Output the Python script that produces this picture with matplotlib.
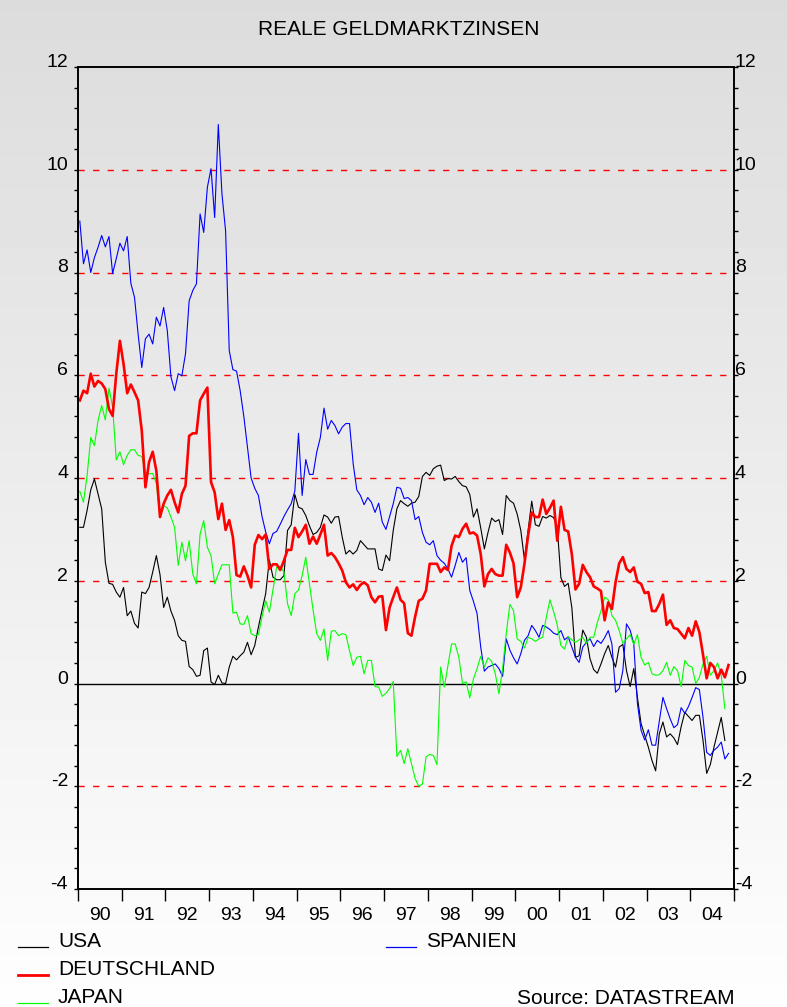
import matplotlib
matplotlib.use('Agg')
import matplotlib.pyplot as plt
from matplotlib.lines import Line2D
from matplotlib.ticker import MultipleLocator
import numpy as np

plt.rcParams['font.family'] = ['Liberation Sans', 'DejaVu Sans']
plt.rcParams['axes.unicode_minus'] = False

# monatliche Werte ab Januar 1990
usa = [3.04, 3.04, 3.37, 3.77, 3.98, 3.69, 3.4, 2.36, 1.95, 1.93,
       1.78, 1.68, 1.87, 1.32, 1.41, 1.17, 1.08, 1.78, 1.75, 1.87,
       2.17, 2.49, 2.12, 1.48, 1.68, 1.41, 1.23, 0.93, 0.84, 0.82,
       0.33, 0.27, 0.14, 0.16, 0.64, 0.69, 0.03, -0.02, 0.16, 0.01,
       0.0, 0.32, 0.53, 0.46, 0.54, 0.61, 0.8, 0.56, 0.74, 1.1,
       1.43, 1.75, 2.41, 2.07, 2.02, 2.02, 2.1, 2.98, 3.09, 3.68,
       3.43, 3.4, 3.27, 3.07, 2.9, 2.94, 3.04, 3.28, 3.24, 3.12,
       3.24, 3.25, 2.85, 2.52, 2.59, 2.52, 2.59, 2.78, 2.7, 2.62,
       2.62, 2.62, 2.23, 2.2, 2.5, 2.39, 2.98, 3.4, 3.56, 3.5,
       3.45, 3.51, 3.53, 3.64, 4.03, 4.11, 4.05, 4.18, 4.23, 4.25,
       3.95, 3.99, 3.98, 4.03, 3.93, 3.85, 3.83, 3.68, 3.24, 3.4,
       3.03, 2.62, 2.94, 3.22, 3.15, 3.19, 2.9, 3.66, 3.56, 3.51,
       3.3, 2.98, 2.41, 2.98, 3.55, 3.09, 3.06, 3.25, 3.22, 3.27,
       3.23, 3.05, 2.06, 1.89, 1.95, 1.48, 0.51, 0.54, 1.04, 0.9,
       0.48, 0.27, 0.2, 0.38, 0.58, 0.74, 0.51, 0.32, 0.71, 0.76,
       0.25, -0.06, 0.29, -0.27, -0.78, -1.01, -1.24, -1.5, -1.7, -0.98,
       -0.75, -1.04, -0.98, -1.06, -1.19, -0.84, -0.56, -0.64, -0.72, -0.62,
       -0.62, -1.11, -1.75, -1.58, -1.24, -0.95, -0.66, -1.11]

deutschland = [5.51, 5.7, 5.65, 6.03, 5.78, 5.89, 5.84, 5.73, 5.34, 5.21,
               6.03, 6.67, 6.22, 5.65, 5.82, 5.67, 5.51, 4.92, 3.82, 4.31,
               4.51, 4.14, 3.24, 3.5, 3.66, 3.77, 3.53, 3.33, 3.69, 3.85,
               4.82, 4.87, 4.87, 5.51, 5.64, 5.76, 3.92, 3.72, 3.2, 3.5,
               2.99, 3.18, 2.85, 2.11, 2.08, 2.28, 2.1, 1.87, 2.7, 2.89,
               2.81, 2.9, 2.23, 2.32, 2.32, 2.21, 2.39, 2.6, 2.6, 3.03,
               2.85, 2.96, 3.09, 2.72, 2.86, 2.72, 2.9, 3.09, 2.49, 2.54,
               2.46, 2.34, 2.2, 1.97, 1.87, 1.93, 1.82, 1.92, 1.97, 1.91,
               1.68, 1.58, 1.69, 1.7, 1.04, 1.48, 1.68, 1.87, 1.63, 1.56,
               0.98, 0.93, 1.3, 1.61, 1.65, 1.81, 2.33, 2.33, 2.33, 2.17,
               2.26, 2.21, 2.68, 2.88, 2.85, 3.01, 3.11, 2.92, 2.94, 2.88,
               2.52, 1.89, 2.13, 2.23, 2.13, 2.1, 2.1, 2.7, 2.55, 2.34,
               1.68, 1.87, 2.33, 2.88, 3.33, 3.24, 3.24, 3.58, 3.3, 3.42,
               3.56, 2.78, 3.44, 2.99, 2.96, 2.52, 1.83, 1.94, 2.31, 2.17,
               2.07, 1.89, 1.85, 1.8, 1.23, 1.58, 1.45, 1.97, 2.34, 2.46,
               2.23, 2.17, 2.26, 1.98, 1.94, 1.76, 1.78, 1.41, 1.41, 1.55,
               1.73, 1.14, 1.23, 1.08, 1.06, 0.97, 0.88, 1.08, 0.93, 1.21,
               1.0, 0.56, 0.1, 0.4, 0.32, 0.1, 0.27, 0.12, 0.36]

japan = [3.74, 3.53, 4.05, 4.79, 4.63, 5.12, 5.41, 5.13, 5.75, 5.38,
         4.35, 4.51, 4.26, 4.44, 4.55, 4.55, 4.44, 4.42, 4.11, 4.08,
         4.09, 3.89, 3.24, 3.46, 3.42, 3.24, 3.04, 2.3, 2.75, 2.39,
         2.78, 2.13, 1.94, 2.91, 3.17, 2.65, 2.49, 1.94, 2.13, 2.31,
         2.31, 2.31, 1.37, 1.39, 1.16, 1.15, 1.32, 0.97, 0.93, 0.95,
         1.3, 1.61, 1.39, 1.82, 2.26, 2.28, 2.17, 1.55, 1.32, 1.75,
         1.82, 2.1, 2.46, 1.94, 1.43, 0.97, 0.84, 1.06, 0.45, 1.02,
         1.03, 0.93, 0.97, 0.95, 0.64, 0.35, 0.51, 0.53, 0.19, 0.45,
         0.45, -0.06, -0.07, -0.25, -0.19, -0.1, 0.04, -1.42, -1.3, -1.56,
         -1.27, -1.56, -1.85, -2.0, -1.96, -1.43, -1.38, -1.4, -1.58, 0.32,
         -0.07, 0.35, 0.77, 0.77, 0.51, 0.0, 0.03, -0.28, 0.09, 0.29,
         0.53, 0.32, 0.5, 0.43, 0.19, -0.2, 0.29, 0.97, 1.54, 1.42,
         0.87, 0.82, 0.69, 0.9, 0.87, 0.82, 0.87, 0.9, 1.29, 1.63,
         1.4, 1.14, 0.74, 0.67, 0.91, 0.85, 0.8, 0.85, 0.9, 0.78,
         0.9, 0.9, 1.19, 1.41, 1.68, 1.63, 1.32, 1.23, 1.03, 0.78,
         0.87, 0.95, 0.76, 0.95, 0.51, 0.36, 0.41, 0.19, 0.16, 0.17,
         0.25, 0.41, 0.16, 0.33, 0.25, -0.06, 0.45, 0.35, 0.32, 0.0,
         0.12, 0.38, 0.53, 0.16, 0.25, 0.4, 0.16, -0.49]

spanien = [9.0, 8.17, 8.44, 8.0, 8.29, 8.49, 8.72, 8.5, 8.7, 7.98,
           8.27, 8.57, 8.42, 8.7, 7.79, 7.52, 6.8, 6.15, 6.71, 6.8,
           6.61, 7.13, 6.96, 7.32, 6.87, 5.97, 5.7, 6.03, 5.99, 6.42,
           7.45, 7.65, 7.78, 9.14, 8.78, 9.66, 10.02, 9.07, 10.88, 9.53,
           8.81, 6.48, 6.11, 6.08, 5.7, 5.2, 4.6, 4.0, 3.8, 3.66,
           3.25, 2.95, 2.72, 2.92, 2.96, 3.1, 3.25, 3.38, 3.5, 3.75,
           4.87, 3.66, 4.36, 4.07, 4.07, 4.5, 4.79, 5.36, 4.95, 5.12,
           5.02, 4.86, 4.99, 5.06, 5.06, 4.28, 3.77, 3.66, 3.48, 3.62,
           3.53, 3.33, 3.51, 3.14, 3.0, 3.25, 3.5, 3.82, 3.8, 3.6,
           3.62, 3.56, 3.19, 3.25, 2.94, 2.75, 2.7, 2.78, 2.49, 2.4,
           2.34, 2.23, 2.07, 2.3, 2.55, 2.36, 2.45, 1.81, 1.6, 1.36,
           0.71, 0.24, 0.32, 0.35, 0.38, 0.29, 0.14, 0.87, 0.65, 0.5,
           0.38, 0.58, 0.84, 0.93, 1.13, 1.03, 0.9, 1.13, 1.1, 1.05,
           0.98, 0.95, 1.03, 0.85, 0.91, 0.71, 0.51, 0.41, 0.71, 0.8,
           0.87, 0.72, 0.84, 0.78, 0.89, 1.03, 0.77, -0.17, -0.1, 0.25,
           1.16, 1.04, 0.77, -0.39, -0.91, -1.1, -0.9, -1.2, -1.2, -0.73,
           -0.27, -0.49, -0.69, -0.86, -0.8, -0.47, -0.58, -0.45, -0.27, -0.08,
           -0.12, -0.66, -1.34, -1.4, -1.3, -1.24, -1.14, -1.47, -1.36]

jahre = ['90', '91', '92', '93', '94', '95', '96', '97', '98', '99',
         '00', '01', '02', '03', '04']
gitter = [10, 8, 6, 4, 2, -2]

W, H = 787, 1007
GRUEN = '#00ff00'


def fx(px):
    return px / W


def fy(py):
    return 1 - py / H


def monate(werte):
    return 1990 + (np.arange(len(werte)) + 0.5) / 12


fig = plt.figure(figsize=(W / 100, H / 100), dpi=100)

# grauer Verlauf im Hintergrund
bg = fig.add_axes([0, 0, 1, 1], zorder=-1)
verlauf = np.linspace(0.862, 0.995, 256).reshape(-1, 1)
bg.imshow(verlauf, aspect='auto', cmap='gray', vmin=0, vmax=1, extent=[0, 1, 0, 1])
bg.axis('off')

ax = fig.add_axes([fx(78), fy(889), fx(734) - fx(78), fy(67) - fy(889)], zorder=1)
ax.set_facecolor('none')

for g in gitter:
    ax.axhline(g, color='red', lw=1.0, dashes=(4.5, 6.0), zorder=1)
ax.axhline(0, color='black', lw=1.0, zorder=1)

ax.plot(monate(usa), usa, color='black', lw=0.8, zorder=3)
ax.plot(monate(spanien), spanien, color='#0000ff', lw=0.8, zorder=3)
ax.plot(monate(japan), japan, color=GRUEN, lw=0.8, zorder=3)
ax.plot(monate(deutschland), deutschland, color='red', lw=1.9, zorder=4)

ax.set_xlim(1990, 2005)
ax.set_ylim(-4, 12)

ax.set_xticks(np.arange(1990, 2006))
ax.set_xticklabels([])
ax.set_xticks(np.arange(1990.5, 2005), minor=True)
ax.set_xticklabels(jahre, minor=True)
ax.tick_params(axis='x', which='major', direction='out', length=8.5, width=1.0, top=False)
ax.tick_params(axis='x', which='minor', length=0, pad=13, labelsize=14, top=False)

# rechte Achse mit eigener Beschriftung
ax2 = ax.twinx()
ax2.set_ylim(-4, 12)

for a, seite in [(ax, 'left'), (ax2, 'right')]:
    a.set_yticks(np.arange(-4, 13, 2))
    a.yaxis.set_minor_locator(MultipleLocator(0.4))
    a.tick_params(axis='y', which='both', direction='out', length=3.2, width=1.0, labelsize=14)
    for t in a.yaxis.get_major_ticks():
        t.label1.set_va('baseline')
        t.label2.set_va('baseline')

ax.tick_params(axis='y', which='both', left=True, right=False, labelleft=True,
               labelright=False, pad=4)
ax2.tick_params(axis='y', which='both', left=False, right=True, labelleft=False,
                labelright=True, pad=-2.5)

for a in (ax, ax2):
    for s in a.spines.values():
        s.set_linewidth(1.2)
        s.set_color('black')

fig.text(fx(399), fy(35), 'REALE GELDMARKTZINSEN', ha='center', va='baseline', fontsize=15)

# Legende
eintraege = [('USA', 'black', 0.9, 18, 947),
             ('DEUTSCHLAND', 'red', 2.0, 18, 975),
             ('JAPAN', GRUEN, 0.9, 18, 1003),
             ('SPANIEN', '#0000ff', 0.9, 386, 947)]
for name, farbe, lw, x0, y0 in eintraege:
    fig.add_artist(Line2D([fx(x0), fx(x0 + 30)], [fy(y0), fy(y0)], color=farbe, lw=lw,
                          transform=fig.transFigure))
    fig.text(fx(x0 + 40), fy(y0), name, ha='left', va='baseline', fontsize=15)

fig.text(fx(517), fy(1004), 'Source: DATASTREAM', ha='left', va='baseline', fontsize=15)

fig.savefig('out.png', dpi=100)
